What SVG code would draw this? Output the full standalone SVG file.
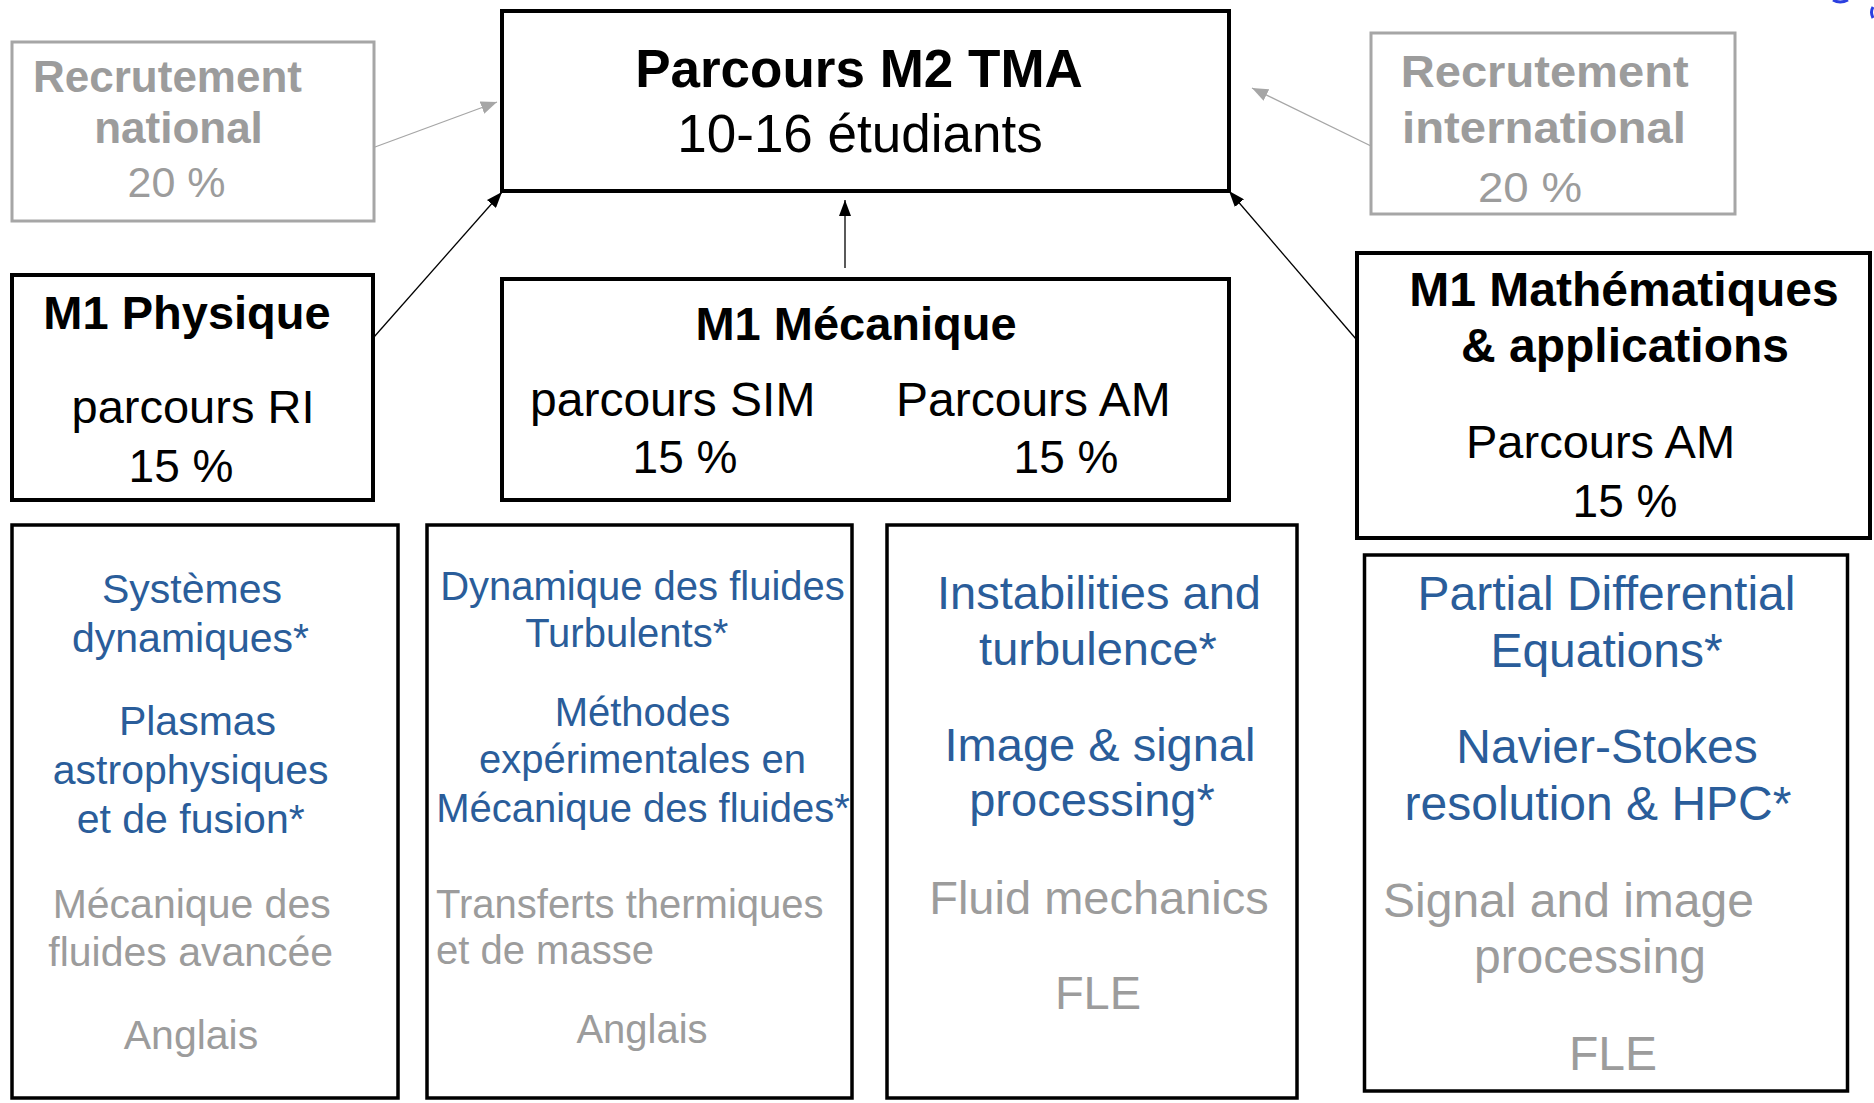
<svg xmlns="http://www.w3.org/2000/svg" width="1874" height="1103" viewBox="0 0 1874 1103">
<style>
.box{fill:#fff;stroke:#000;stroke-width:4}
.gbox{fill:#fff;stroke:#a6a6a6;stroke-width:3}
text{font-family:"Liberation Sans",Arial,sans-serif}
.b{font-weight:bold}
.c{text-anchor:middle}
.blk{fill:#000}
.gry{fill:#9c9c9c}
.blu{fill:#2a5d9a}
.ln{stroke:#000;stroke-width:1.3;fill:none;marker-end:url(#ah)}
.gln{stroke:#a6a6a6;stroke-width:1.3;fill:none;marker-end:url(#gah)}
</style>
<defs>
<marker id="ah" markerUnits="userSpaceOnUse" markerWidth="16" markerHeight="12" refX="16" refY="6" orient="auto"><path d="M0,0 L16,6 L0,12 z" fill="#000"/></marker>
<marker id="gah" markerUnits="userSpaceOnUse" markerWidth="16" markerHeight="13" refX="16" refY="6.5" orient="auto"><path d="M0,0 L16,6.5 L0,13 z" fill="#a6a6a6"/></marker>
</defs>
<rect width="1874" height="1103" fill="#fff"/>
<g id="connectors">
<line class="gln" x1="375" y1="147" x2="497" y2="102"/>
<line class="gln" x1="1371" y1="146" x2="1252" y2="88"/>
<line class="ln" x1="374" y1="337" x2="502" y2="192"/>
<line class="ln" x1="845" y1="268" x2="845" y2="200"/>
<line class="ln" x1="1356" y1="339" x2="1229" y2="191"/>
</g>
<g id="recrutement-national">
<rect class="gbox" x="12" y="42" width="362" height="179"/>
<text class="b c gry" x="167.5" y="92" font-size="44">Recrutement</text>
<text class="b c gry" x="178.5" y="143" font-size="44">national</text>
<text class="c gry" x="176.5" y="197" font-size="43">20 %</text>
</g>
<g id="parcours-m2">
<rect class="box" x="502" y="11" width="727" height="180"/>
<text class="b c blk" x="859" y="87" font-size="53">Parcours M2 TMA</text>
<text class="c blk" x="860" y="152" font-size="53">10-16 étudiants</text>
</g>
<g id="recrutement-international">
<rect class="gbox" x="1371" y="33" width="364" height="181"/>
<text class="b c gry" x="1544.7" y="87" font-size="44" textLength="288" lengthAdjust="spacingAndGlyphs">Recrutement</text>
<text class="b c gry" x="1544" y="143" font-size="44" textLength="284" lengthAdjust="spacingAndGlyphs">international</text>
<text class="c gry" x="1530" y="202" font-size="43" textLength="104" lengthAdjust="spacingAndGlyphs">20 %</text>
</g>
<g id="m1-physique">
<rect class="box" x="12" y="275" width="361" height="225"/>
<text class="b c blk" x="187" y="329" font-size="47">M1 Physique</text>
<text class="c blk" x="193" y="423" font-size="47">parcours RI</text>
<text class="c blk" x="181" y="482" font-size="46">15 %</text>
</g>
<g id="m1-mecanique">
<rect class="box" x="502" y="279" width="727" height="221"/>
<text class="b c blk" x="856" y="340" font-size="47">M1 Mécanique</text>
<text class="blk" x="530" y="416" font-size="48">parcours SIM</text>
<text class="blk" x="896" y="416" font-size="48">Parcours AM</text>
<text class="c blk" x="685" y="473" font-size="46">15 %</text>
<text class="c blk" x="1066" y="473" font-size="46">15 %</text>
</g>
<g id="m1-mathematiques">
<rect class="box" x="1357" y="253" width="513" height="285"/>
<text class="b c blk" x="1624" y="306" font-size="48">M1 Mathématiques</text>
<text class="b c blk" x="1625" y="362" font-size="48">&amp; applications</text>
<text class="blk" x="1466" y="458" font-size="47">Parcours AM</text>
<text class="c blk" x="1625" y="517" font-size="46">15 %</text>
</g>
<g id="cours-physique">
<rect class="box" x="12" y="525" width="386" height="573" style="stroke-width:3.5"/>
<g font-size="41">
<text class="c blu" x="192" y="603">Systèmes</text>
<text class="c blu" x="190.5" y="652">dynamiques*</text>
<text class="c blu" x="197.5" y="735">Plasmas</text>
<text class="c blu" x="190.7" y="784">astrophysiques</text>
<text class="c blu" x="190.7" y="833">et de fusion*</text>
<text class="c gry" x="191.7" y="918">Mécanique des</text>
<text class="c gry" x="190.7" y="966">fluides avancée</text>
<text class="c gry" x="191" y="1049">Anglais</text>
</g>
</g>
<g id="cours-mecanique">
<rect class="box" x="427" y="525" width="425" height="573" style="stroke-width:3.5"/>
<g font-size="40">
<text class="c blu" x="642.5" y="600">Dynamique des fluides</text>
<text class="c blu" x="626.7" y="647">Turbulents*</text>
<text class="c blu" x="642.5" y="726">Méthodes</text>
<text class="c blu" x="642.5" y="773">expérimentales en</text>
<text class="c blu" x="643" y="822">Mécanique des fluides*</text>
<text class="gry" x="436" y="918">Transferts thermiques</text>
<text class="gry" x="436" y="964">et de masse</text>
<text class="c gry" x="642" y="1043">Anglais</text>
</g>
</g>
<g id="cours-am">
<rect class="box" x="887" y="525" width="410" height="573" style="stroke-width:3.5"/>
<g font-size="47">
<text class="c blu" x="1099" y="609">Instabilities and</text>
<text class="c blu" x="1098" y="665">turbulence*</text>
<text class="c blu" x="1100" y="761">Image &amp; signal</text>
<text class="c blu" x="1092" y="816">processing*</text>
<text class="c gry" x="1099" y="914">Fluid mechanics</text>
<text class="c gry" x="1098" y="1009">FLE</text>
</g>
</g>
<g id="cours-maths">
<rect class="box" x="1364.5" y="555" width="483" height="536" style="stroke-width:3.5"/>
<g font-size="48">
<text class="c blu" x="1606.5" y="610">Partial Differential</text>
<text class="c blu" x="1606.5" y="667">Equations*</text>
<text class="c blu" x="1607" y="763">Navier-Stokes</text>
<text class="c blu" x="1598" y="820">resolution &amp; HPC*</text>
<text class="gry" x="1383" y="917">Signal and image</text>
<text class="c gry" x="1590" y="973">processing</text>
<text class="c gry" x="1613" y="1070">FLE</text>
</g>
</g>
<g id="corner-mark" fill="none" stroke="#2b3fe0" stroke-width="3">
<path d="M1833,0 Q1840,4 1848,0"/>
<path d="M1873,7 Q1870,12 1873,18"/>
</g>
</svg>
